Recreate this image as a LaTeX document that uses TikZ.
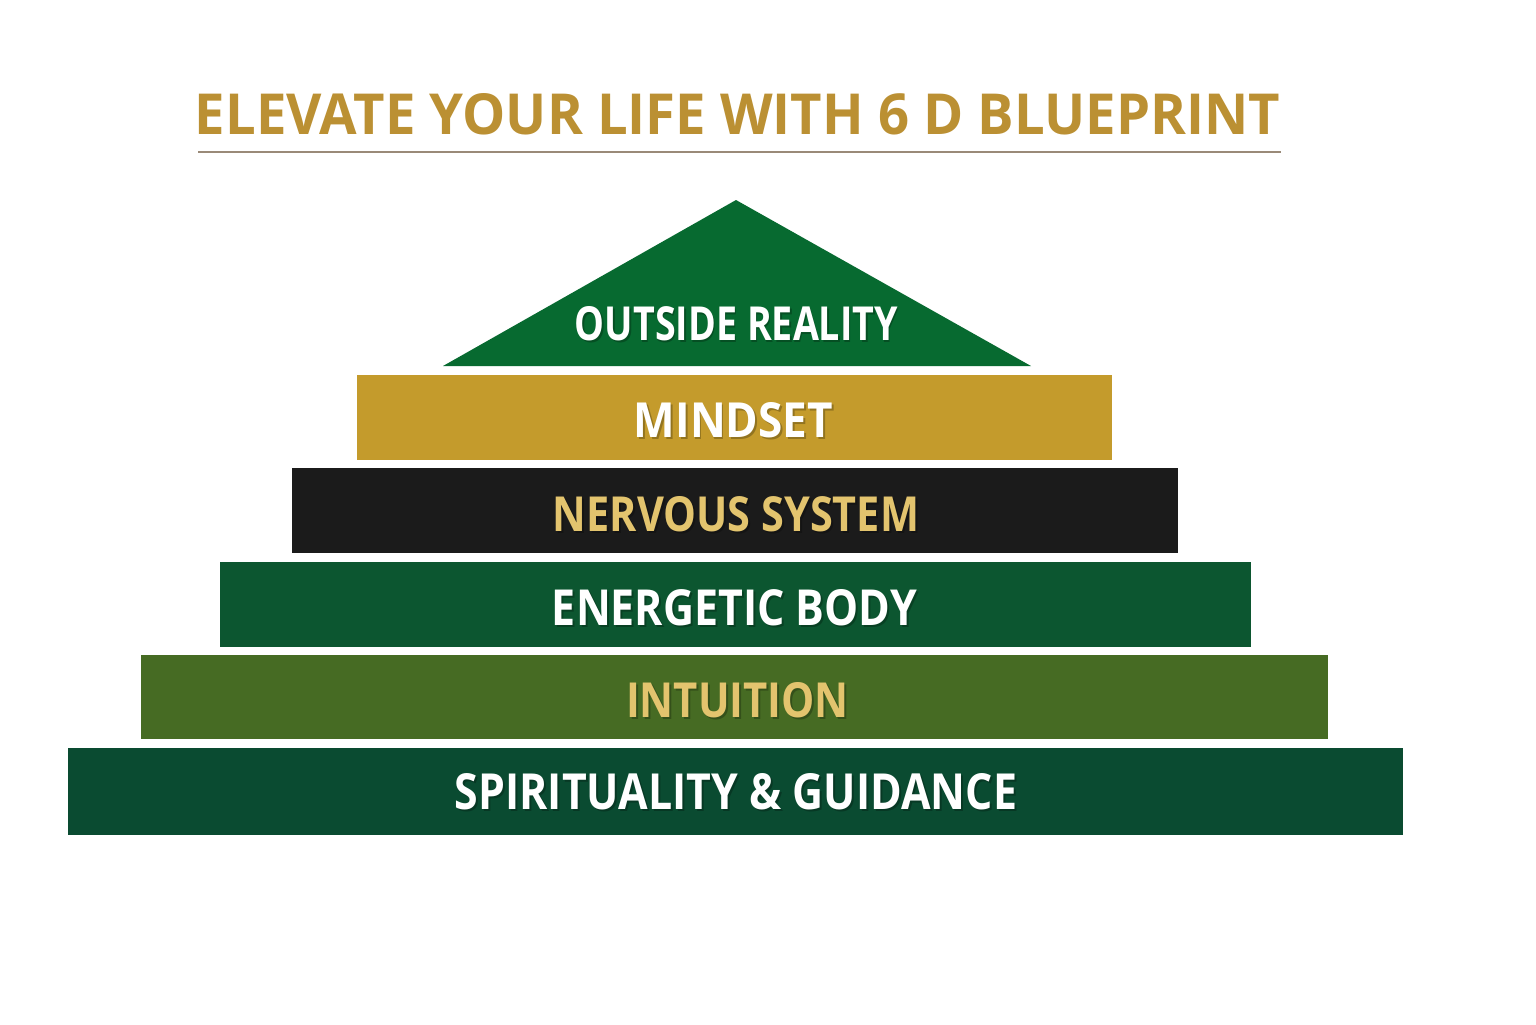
\documentclass[tikz,border=0pt]{standalone}
\usepackage{fontspec}
\setmainfont{Open Sans}
\usepackage{graphicx}
\definecolor{titlegold}{HTML}{BB9033}
\definecolor{txtgold}{HTML}{E3C46E}
\definecolor{rulec}{HTML}{9A8A78}
\definecolor{trig}{HTML}{076A30}
\definecolor{mindc}{HTML}{C49B2C}
\definecolor{nervc}{HTML}{1B1B1B}
\definecolor{enerc}{HTML}{0C5630}
\definecolor{intuc}{HTML}{466B23}
\definecolor{spirc}{HTML}{0A4B31}
\newcommand{\fitlabel}[3]{\resizebox{#1pt}{#2pt}{\bfseries #3}}
\tikzset{
  lbl/.style={inner sep=0pt, anchor=center},
  shadowlbl/.style={inner sep=0pt, anchor=center, text=black, opacity=0.25}
}
\begin{document}
\begin{tikzpicture}[x=0.5pt,y=-0.5pt]
\useasboundingbox[fill=white] (0,0) rectangle (1536,1024);
% title
\node[lbl, text=titlegold] (title) at (737.5,114.5) {\fitlabel{542.5}{20.5}{ELEVATE YOUR LIFE WITH 6 D BLUEPRINT}};
\coordinate (ruleL) at (198,152);
\coordinate (ruleR) at (1281,152);
\draw[rulec, line width=0.8pt] (ruleL) -- (ruleR);
% layers
\fill[trig] (736,200) -- (1031,366) -- (443,366) -- cycle;
\fill[mindc] (357,375) rectangle (1112,460);
\fill[nervc] (292,468) rectangle (1178,553);
\fill[enerc] (220,562) rectangle (1251,647);
\fill[intuc] (141,655) rectangle (1328,739);
\fill[spirc] (68,748) rectangle (1403,835);
% label shadows
\node[shadowlbl] at (738,326) {\fitlabel{161.5}{17}{OUTSIDE REALITY}};
\node[shadowlbl] at (735,422.5) {\fitlabel{99.5}{17.5}{MINDSET}};
\node[shadowlbl] at (738,516.5) {\fitlabel{183}{17.5}{NERVOUS SYSTEM}};
\node[shadowlbl] at (736.5,610) {\fitlabel{182.5}{18}{ENERGETIC BODY}};
\node[shadowlbl] at (739.5,702.5) {\fitlabel{111.5}{17.5}{INTUITION}};
\node[shadowlbl] at (738,794) {\fitlabel{281}{18}{SPIRITUALITY \& GUIDANCE}};
% labels
\node[lbl, text=white] (outside) at (736.5,324) {\fitlabel{161.5}{17}{OUTSIDE REALITY}};
\node[lbl, text=white] (mindset) at (733.5,420.5) {\fitlabel{99.5}{17.5}{MINDSET}};
\node[lbl, text=txtgold] (nervous) at (736,514.5) {\fitlabel{183}{17.5}{NERVOUS SYSTEM}};
\node[lbl, text=white] (energetic) at (734.5,608) {\fitlabel{182.5}{18}{ENERGETIC BODY}};
\node[lbl, text=txtgold] (intuition) at (737.5,700.5) {\fitlabel{111.5}{17.5}{INTUITION}};
\node[lbl, text=white] (spirit) at (736,792) {\fitlabel{281}{18}{SPIRITUALITY \& GUIDANCE}};
\end{tikzpicture}
\end{document}
